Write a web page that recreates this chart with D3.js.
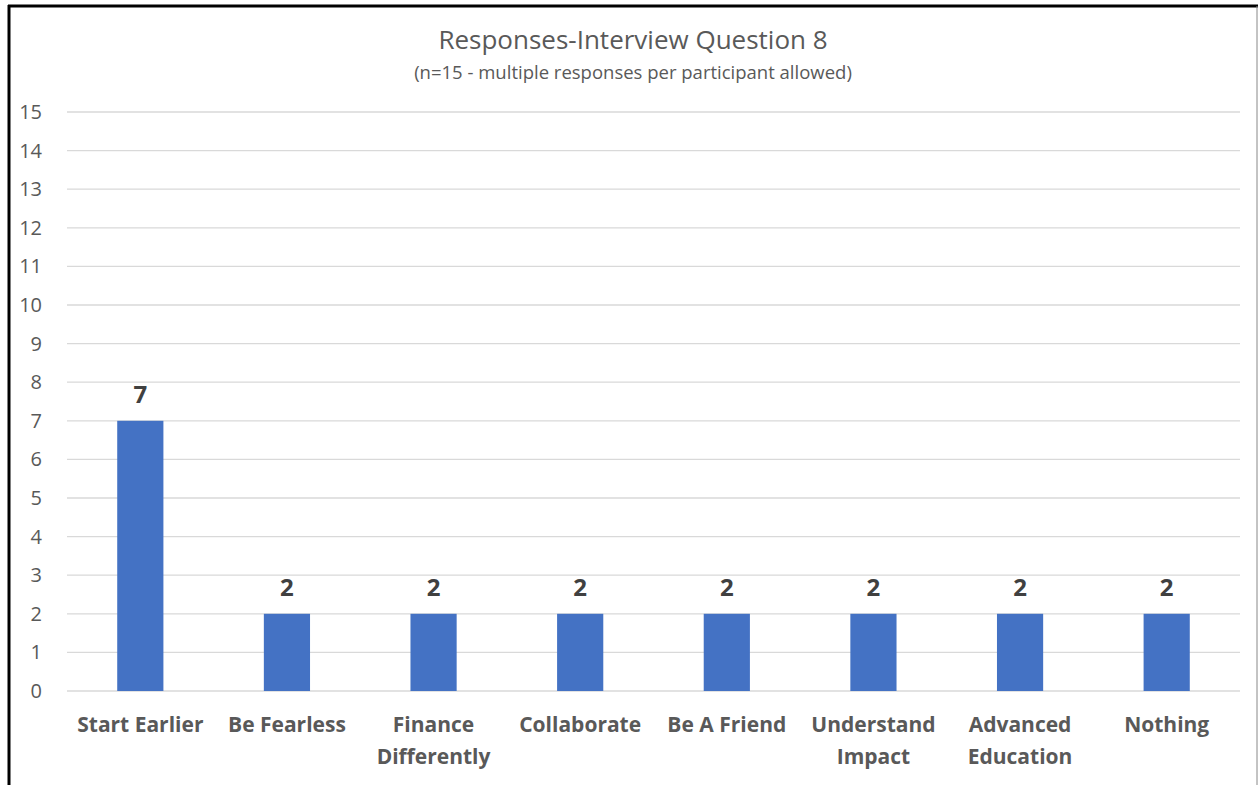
<!DOCTYPE html>
<html>
<head>
<meta charset="utf-8">
<script src="https://cdn.jsdelivr.net/npm/d3@7"></script>
<style>
  body { margin: 0; background: #fff; }
  svg { display: block; font-family: "Open Sans", "Lato", sans-serif; }
</style>
</head>
<body>
<div id="chart"></div>
<script>
var categories = [["Start Earlier"], ["Be Fearless"], ["Finance", "Differently"], ["Collaborate"],
                  ["Be A Friend"], ["Understand", "Impact"], ["Advanced", "Education"], ["Nothing"]];
var counts = [7, 2, 2, 2, 2, 2, 2, 2];
var yTicks = d3.range(0, 16);

var width = 1258, height = 785;
var margin = {top: 112, right: 18, bottom: 94, left: 67};
var plotW = width - margin.left - margin.right,
    plotH = height - margin.top - margin.bottom;

var svg = d3.select("#chart").append("svg")
    .attr("width", width)
    .attr("height", height);

// frame
svg.append("line").attr("x1", 9).attr("x2", 9).attr("y1", 5).attr("y2", height)
    .attr("stroke", "#000").attr("stroke-width", 3);
svg.append("line").attr("x1", 8).attr("x2", width).attr("y1", 6).attr("y2", 6)
    .attr("stroke", "#000").attr("stroke-width", 3);
svg.append("line").attr("x1", 1257).attr("x2", 1257).attr("y1", 6).attr("y2", height)
    .attr("stroke", "#888").attr("stroke-width", 1);

svg.append("text")
    .attr("x", 633).attr("y", 49)
    .attr("text-anchor", "middle")
    .style("font-size", "26px").style("fill", "#595959")
    .text("Responses-Interview Question 8");
svg.append("text")
    .attr("x", 633).attr("y", 79)
    .attr("text-anchor", "middle")
    .style("font-size", "18.5px").style("fill", "#595959")
    .text("(n=15 - multiple responses per participant allowed)");

var g = svg.append("g")
    .attr("transform", "translate(" + margin.left + "," + margin.top + ")");

var x = d3.scaleBand().domain(d3.range(categories.length)).range([0, plotW]).padding(0);
var y = d3.scaleLinear().domain([0, 15]).range([plotH, 0]);
var barW = x.bandwidth() * 0.315;

// gridlines
g.selectAll(".grid")
    .data(yTicks)
  .enter().append("line")
    .attr("class", "grid")
    .attr("x1", 0).attr("x2", plotW)
    .attr("y1", function(d) { return y(d); })
    .attr("y2", function(d) { return y(d); })
    .attr("stroke", "#d9d9d9").attr("stroke-width", 1.3);

// y axis labels
var yAxis = d3.axisLeft(y).tickValues(yTicks).tickSize(0).tickPadding(25);
g.append("g").call(yAxis)
    .call(function(s) { s.select(".domain").remove(); })
    .selectAll("text")
    .style("font-size", "20px").style("fill", "#595959")
    .style("font-family", "\"Open Sans\", sans-serif");

// bars
g.selectAll(".bar")
    .data(counts)
  .enter().append("rect")
    .attr("class", "bar")
    .attr("x", function(d, i) { return x(i) + x.bandwidth() / 2 - barW / 2; })
    .attr("width", barW)
    .attr("y", function(d) { return y(d); })
    .attr("height", function(d) { return plotH - y(d); })
    .attr("fill", "#4472C4");

// value labels
g.selectAll(".val")
    .data(counts)
  .enter().append("text")
    .attr("class", "val")
    .attr("x", function(d, i) { return x(i) + x.bandwidth() / 2; })
    .attr("y", function(d) { return y(d) - 18; })
    .attr("text-anchor", "middle")
    .style("font-size", "24px").style("font-weight", "bold").style("fill", "#404040")
    .text(function(d) { return d; });

// category labels
var cat = g.selectAll(".cat")
    .data(categories)
  .enter().append("text")
    .attr("class", "cat")
    .attr("x", function(d, i) { return x(i) + x.bandwidth() / 2; })
    .attr("y", plotH + 41)
    .attr("text-anchor", "middle")
    .style("font-size", "21px").style("font-weight", "bold").style("fill", "#595959");
cat.selectAll("tspan")
    .data(function(d) { return d; })
  .enter().append("tspan")
    .attr("x", function() { return d3.select(this.parentNode).attr("x"); })
    .attr("dy", function(d, i) { return i === 0 ? 0 : 32; })
    .text(function(d) { return d; });
</script>
</body>
</html>
